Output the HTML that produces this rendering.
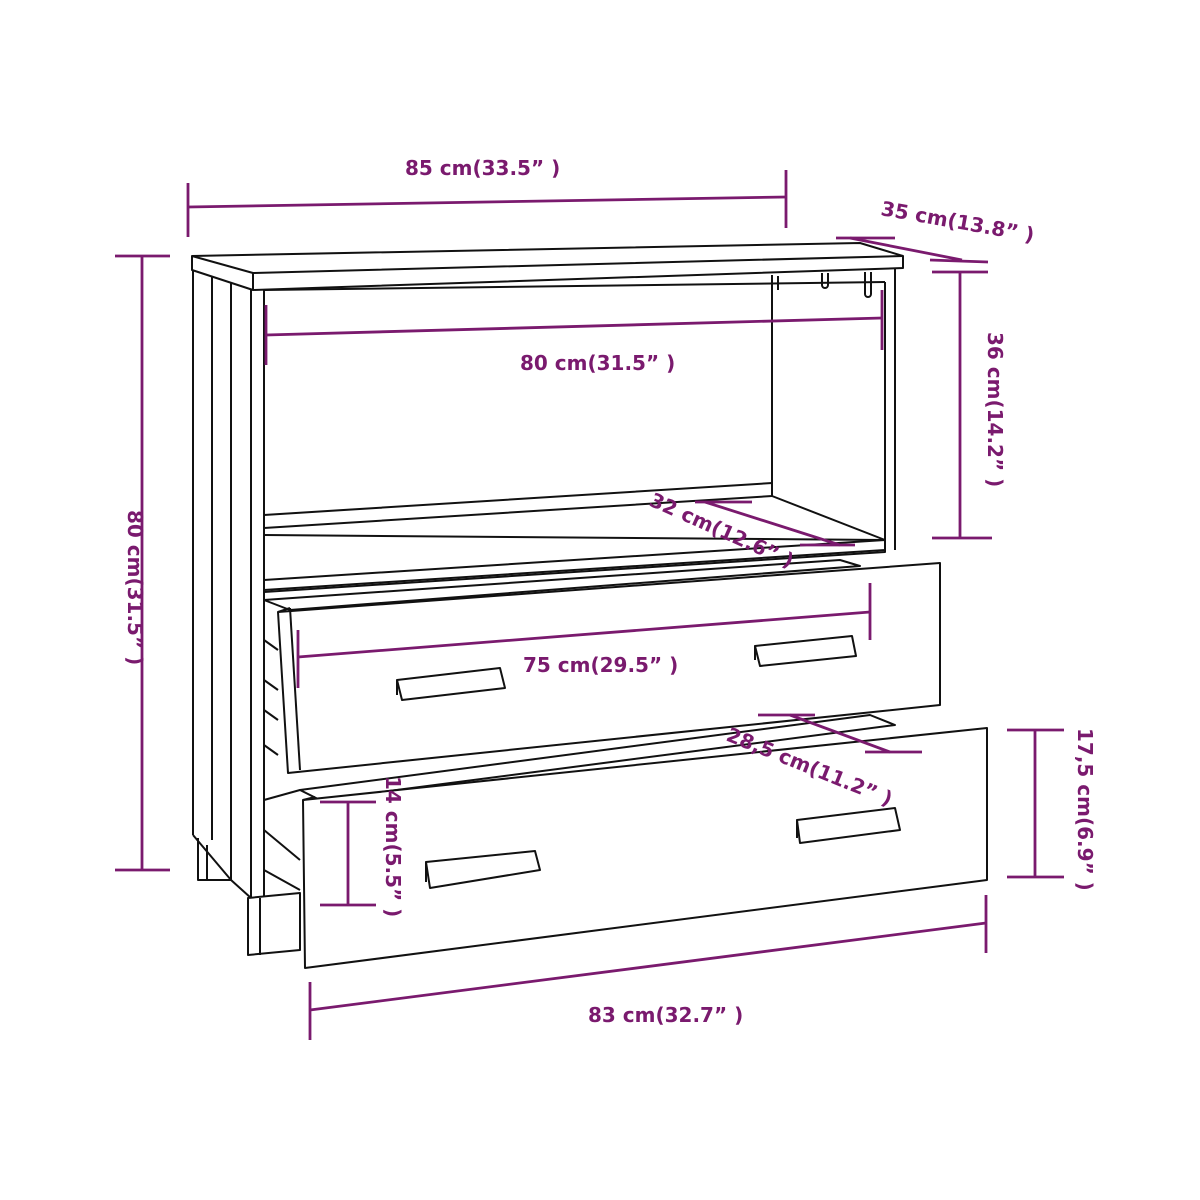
<!DOCTYPE html>
<html><head><style>
html,body{margin:0;padding:0;background:#fff;width:1200px;height:1200px;overflow:hidden}
svg text{font-family:"DejaVu Sans","Liberation Sans",sans-serif;font-weight:bold;font-size:20px;fill:#7a1a6e}
</style></head><body>
<svg width="1200" height="1200" viewBox="0 0 1200 1200" xmlns="http://www.w3.org/2000/svg">
<g fill="none" stroke="#111" stroke-width="2" stroke-linejoin="round">
<polygon points="192,256 860,243 903,256 903,268 253,290 192,270" fill="#fff"/>
<polyline points="192,256 253,273 903,256"/>
<line x1="253" y1="273" x2="253" y2="290"/>
<line x1="193" y1="270" x2="193" y2="835"/>
<line x1="212" y1="276" x2="212" y2="840"/>
<line x1="231" y1="282" x2="231" y2="880"/>
<line x1="251" y1="290" x2="251" y2="898"/>
<line x1="264" y1="290" x2="264" y2="898"/>
<polyline points="193,835 231,880 251,898"/>
<polyline points="198,838 198,880 232,880"/>
<line x1="207" y1="845" x2="207" y2="880"/>
<polygon points="248,898 300,893 300,950 248,955" fill="#fff"/>
<line x1="260" y1="898" x2="260" y2="955"/>
<line x1="264" y1="290" x2="885" y2="282"/>
<line x1="772" y1="275" x2="772" y2="485"/>
<line x1="885" y1="282" x2="885" y2="550"/>
<line x1="895" y1="268" x2="895" y2="550"/>
<polyline points="264,515 772,483 772,496 264,528"/>
<polyline points="772,496 885,540 885,550 264,590"/>
<line x1="264" y1="535" x2="885" y2="540"/>
<polygon points="264,580 885,540 885,552 264,592"/>
<path d="M822,273 v12 a3,3 0 0 0 6,0 v-12"/>
<path d="M865,272 v22 a3,3 0 0 0 6,0 v-22"/>
<line x1="778" y1="276" x2="778" y2="290"/>
<polygon points="264,600 840,560 860,566 290,610" fill="#fff"/>
<polygon points="278,612 940,563 940,705 288,773" fill="#fff"/>
<line x1="278" y1="612" x2="290" y2="608"/>
<line x1="290" y1="608" x2="300" y2="770"/>
<line x1="264" y1="640" x2="278" y2="650"/>
<line x1="264" y1="680" x2="278" y2="690"/>
<line x1="264" y1="710" x2="278" y2="720"/>
<line x1="264" y1="745" x2="278" y2="755"/>
<polygon points="397,680 500,668 505,688 402,700" fill="#fff"/>
<line x1="397" y1="680" x2="397" y2="695"/>
<polygon points="755,646 852,636 856,656 760,666" fill="#fff"/>
<line x1="755" y1="646" x2="755" y2="660"/>
<polygon points="300,790 870,715 895,725 320,800" fill="#fff"/>
<polygon points="303,800 987,728 987,880 305,968" fill="#fff"/>
<line x1="303" y1="800" x2="315" y2="797"/>
<line x1="264" y1="800" x2="300" y2="790"/>
<line x1="264" y1="830" x2="300" y2="860"/>
<line x1="264" y1="870" x2="300" y2="890"/>
<polygon points="426,862 535,851 540,870 430,888" fill="#fff"/>
<line x1="426" y1="862" x2="426" y2="882"/>
<polygon points="797,820 895,808 900,830 800,843" fill="#fff"/>
<line x1="797" y1="820" x2="797" y2="838"/>
</g>
<g stroke="#7a1a6e" stroke-width="2.8" fill="none">
<line x1="188" y1="207" x2="786" y2="197"/><line x1="188" y1="183" x2="188" y2="237"/><line x1="786" y1="170" x2="786" y2="228"/>
<line x1="850" y1="238" x2="962" y2="260"/><line x1="836" y1="238" x2="895" y2="238"/><line x1="930" y1="260" x2="988" y2="262"/>
<line x1="960" y1="272" x2="960" y2="538"/><line x1="932" y1="272" x2="988" y2="272"/><line x1="932" y1="538" x2="992" y2="538"/>
<line x1="142" y1="256" x2="142" y2="870"/><line x1="115" y1="256" x2="170" y2="256"/><line x1="115" y1="870" x2="170" y2="870"/>
<line x1="266" y1="335" x2="882" y2="318"/><line x1="266" y1="305" x2="266" y2="365"/><line x1="882" y1="290" x2="882" y2="350"/>
<line x1="705" y1="502" x2="840" y2="545"/><line x1="695" y1="502" x2="752" y2="502"/><line x1="800" y1="545" x2="855" y2="545"/>
<line x1="298" y1="657" x2="870" y2="612"/><line x1="298" y1="630" x2="298" y2="688"/><line x1="870" y1="583" x2="870" y2="640"/>
<line x1="790" y1="715" x2="890" y2="752"/><line x1="758" y1="715" x2="815" y2="715"/><line x1="865" y1="752" x2="922" y2="752"/>
<line x1="348" y1="802" x2="348" y2="905"/><line x1="320" y1="802" x2="376" y2="802"/><line x1="320" y1="905" x2="376" y2="905"/>
<line x1="1035" y1="730" x2="1035" y2="877"/><line x1="1007" y1="730" x2="1064" y2="730"/><line x1="1007" y1="877" x2="1064" y2="877"/>
<line x1="310" y1="1010" x2="986" y2="923"/><line x1="310" y1="982" x2="310" y2="1040"/><line x1="986" y1="895" x2="986" y2="953"/>
</g>
<text x="405" y="175">85 cm(33.5” )</text>
<text x="880" y="215" transform="rotate(10 880 215)">35 cm(13.8” )</text>
<text x="520" y="370">80 cm(31.5” )</text>
<text x="523" y="672">75 cm(29.5” )</text>
<text x="588" y="1022">83 cm(32.7” )</text>
<text x="648" y="505" transform="rotate(24 648 505)">32 cm(12.6” )</text>
<text x="725" y="740" transform="rotate(22 725 740)">28,5 cm(11.2” )</text>
<text x="988" y="332" transform="rotate(90 988 332)">36 cm(14.2” )</text>
<text x="128" y="510" transform="rotate(90 128 510)">80 cm(31.5” )</text>
<text x="1078" y="728" transform="rotate(90 1078 728)">17,5 cm(6.9” )</text>
<text x="386" y="776" transform="rotate(90 386 776)">14 cm(5.5” )</text>
</svg>
</body></html>
